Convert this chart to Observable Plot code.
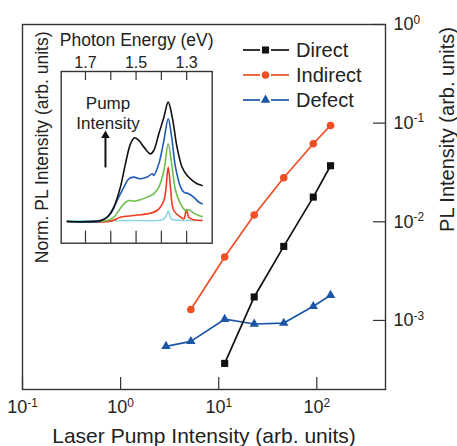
<!DOCTYPE html>
<html><head><meta charset="utf-8">
<script src="https://cdn.jsdelivr.net/npm/d3@7"></script>
<script src="https://cdn.jsdelivr.net/npm/@observablehq/plot@0.6"></script>
<style>
body{margin:0;background:#fff;font-family:"Liberation Sans",Arial,sans-serif}
#wrap{position:relative;width:457px;height:446px;background:#fff}
#wrap svg{position:absolute;left:0;top:0}
</style></head><body><div id="wrap"></div>
<script>
// ---- main chart data ----
const directX = [11.5, 23, 46, 92, 138];
const directY = [3.67e-4, 1.73e-3, 5.63e-3, 1.78e-2, 3.70e-2];
const indirectX = [5.2, 11.5, 23, 46, 92, 138];
const indirectY = [1.29e-3, 4.39e-3, 1.17e-2, 2.80e-2, 6.18e-2, 9.48e-2];
const defectX = [2.9, 5.2, 11.5, 23, 46, 92, 138];
const defectY = [5.47e-4, 6.14e-4, 1.03e-3, 9.2e-4, 9.4e-4, 1.39e-3, 1.80e-3];
const xTicks = [0.1, 1, 10, 100];
const xTickLabels = ["10^-1", "10^0", "10^1", "10^2"];
const yTicks = [1e-3, 1e-2, 1e-1, 1];
const yTickLabels = ["10^-3", "10^-2", "10^-1", "10^0"];
const seriesNames = ["Direct", "Indirect", "Defect"];

// ---- inset spectra data ----
const blackE = [1.772, 1.641, 1.614, 1.588, 1.562, 1.542, 1.522, 1.506, 1.489, 1.469, 1.443, 1.430, 1.410, 1.390, 1.373, 1.357, 1.338, 1.318, 1.298, 1.278, 1.259, 1.239];
const blackI = [0, 0.008, 0.036, 0.12, 0.288, 0.483, 0.651, 0.701, 0.679, 0.623, 0.567, 0.595, 0.735, 0.874, 1.0, 0.874, 0.623, 0.455, 0.385, 0.344, 0.316, 0.302];
const blueE = [1.772, 1.641, 1.601, 1.575, 1.548, 1.529, 1.509, 1.483, 1.456, 1.436, 1.430, 1.410, 1.390, 1.373, 1.361, 1.344, 1.324, 1.311, 1.292, 1.272, 1.252, 1.239];
const blueI = [0, 0.005, 0.064, 0.176, 0.288, 0.358, 0.372, 0.358, 0.372, 0.40, 0.385, 0.483, 0.679, 0.860, 0.735, 0.455, 0.288, 0.246, 0.232, 0.204, 0.162, 0.148];
const greenE = [1.772, 1.614, 1.588, 1.568, 1.548, 1.529, 1.509, 1.483, 1.456, 1.430, 1.410, 1.390, 1.373, 1.361, 1.344, 1.324, 1.305, 1.292, 1.272, 1.252, 1.239];
const greenI = [0, 0.008, 0.036, 0.092, 0.148, 0.176, 0.170, 0.182, 0.204, 0.232, 0.288, 0.427, 0.651, 0.511, 0.260, 0.148, 0.092, 0.098, 0.070, 0.050, 0.042];
const redE = [1.772, 1.601, 1.562, 1.509, 1.456, 1.417, 1.390, 1.373, 1.364, 1.351, 1.324, 1.311, 1.301, 1.292, 1.272, 1.239];
const redI = [0, 0.003, 0.036, 0.050, 0.064, 0.092, 0.176, 0.455, 0.288, 0.092, 0.036, 0.022, 0.10, 0.036, 0.014, 0.008];
const cyanE = [1.772, 1.50, 1.40, 1.383, 1.373, 1.361, 1.33, 1.239];
const cyanI = [0.005, 0.008, 0.012, 0.036, 0.087, 0.022, 0.01, 0.01];
const insetTicks = [1.7, 1.6, 1.5, 1.4, 1.3];
const insetLabeledTicks = [1.7, 1.5, 1.3];
const insetTickLabels = ["1.7", "1.5", "1.3"];

const FONT = "Liberation Sans, Arial, Helvetica, sans-serif";
const C_DIRECT = "#111111", C_INDIRECT = "#f04e24", C_DEFECT = "#1b55a6";

const pts = (xs, ys) => xs.map((x, i) => ({x, y: ys[i]}));
const direct = pts(directX, directY);
const indirect = pts(indirectX, indirectY);
const defect = pts(defectX, defectY);

const W = 457, H = 446, ML = 22, MR = 72, MT = 24, MB = 57;
const FW = W - ML - MR, FH = H - MT - MB;

const main = Plot.plot({
  width: W, height: H, marginLeft: ML, marginRight: MR, marginTop: MT, marginBottom: MB,
  style: {fontFamily: FONT, background: "transparent", color: "#222"},
  x: {type: "log", domain: [0.1, 10 ** 2.7]},
  y: {type: "log", domain: [10 ** -3.7, 1]},
  marks: [
    Plot.frame({stroke: "#333", strokeWidth: 1.4}),
    Plot.tickX(xTicks, {x: d => d, insetTop: FH - 12, stroke: "#333", strokeWidth: 1.2}),
    Plot.tickY(yTicks, {y: d => d, insetLeft: FW - 12, stroke: "#333", strokeWidth: 1.2}),
    Plot.axisX(xTicks, {tickSize: 0, tickPadding: 11, fontSize: 18, label: null,
      tickFormat: d => xTickLabels[xTicks.indexOf(d)]}),
    Plot.axisY(yTicks, {anchor: "right", tickSize: 0, tickPadding: 8, fontSize: 18, label: null,
      tickFormat: d => yTickLabels[yTicks.indexOf(d)]}),
    Plot.text(["Laser Pump Intensity (arb. units)"], {frameAnchor: "bottom", dy: 47, lineAnchor: "middle", textAnchor: "middle", fontSize: 21, fill: "#222"}),
    Plot.text(["PL Intensity (arb. units)"], {frameAnchor: "top-right", dx: 62, dy: 105, rotate: -90, textAnchor: "middle", lineAnchor: "middle", fontSize: 20, fill: "#222"}),
    Plot.line(defect, {x: "x", y: "y", stroke: C_DEFECT, strokeWidth: 1.7}),
    Plot.dot(defect, {x: "x", y: "y", symbol: "triangle", r: 3.5, fill: C_DEFECT}),
    Plot.line(indirect, {x: "x", y: "y", stroke: C_INDIRECT, strokeWidth: 1.7}),
    Plot.dot(indirect, {x: "x", y: "y", symbol: "circle", r: 3.8, fill: C_INDIRECT}),
    Plot.line(direct, {x: "x", y: "y", stroke: C_DIRECT, strokeWidth: 1.7}),
    Plot.dot(direct, {x: "x", y: "y", symbol: "square", r: 4, fill: C_DIRECT})
  ]
});

// ---- inset ----
const IW = 230, IH = 285, IML = 60.7, IMR = IW - 211.7, IMT = 71, IMB = IH - 242.7;
const IFH = IH - IMT - IMB;
const spectra = [
  {E: cyanE, I: cyanI, c: "#8fd6e3"},
  {E: redE, I: redI, c: "#f03c1e"},
  {E: greenE, I: greenI, c: "#6cbf4a"},
  {E: blueE, I: blueI, c: "#1f5cb8"},
  {E: blackE, I: blackI, c: "#111111"}
];
const annot = [{x: 1.611, y: 0.989, t: "Pump"}, {x: 1.611, y: 0.821, t: "Intensity"}];
const arrowData = [{x1: 1.621, y1: 0.453, x2: 1.621, y2: 0.72}];
const inset = Plot.plot({
  width: IW, height: IH, marginLeft: IML, marginRight: IMR, marginTop: IMT, marginBottom: IMB,
  style: {fontFamily: FONT, background: "transparent", color: "#222"},
  x: {domain: [1.796, 1.199]},
  y: {domain: [-0.182, 1.257], axis: null},
  marks: [
    Plot.frame({fill: "white", stroke: "#333", strokeWidth: 1.4}),
    ...spectra.map(s => Plot.line(pts(s.E, s.I), {x: "x", y: "y", stroke: s.c, strokeWidth: 1.6, curve: "catmull-rom"})),
    Plot.tickX(insetTicks, {x: d => d, insetBottom: IFH - 9, stroke: "#333", strokeWidth: 1.2}),
    Plot.tickX(insetTicks, {x: d => d, insetTop: IFH - 12, stroke: "#333", strokeWidth: 1.2}),
    Plot.axisX(insetLabeledTicks, {anchor: "top", tickSize: 0, tickPadding: 4, fontSize: 16, label: null,
      tickFormat: d => insetTickLabels[insetLabeledTicks.indexOf(d)]}),
    Plot.text(["Photon Energy (eV)"], {frameAnchor: "top", dy: -31, lineAnchor: "middle", textAnchor: "middle", fontSize: 17.5, fill: "#222"}),
    Plot.text(["Norm. PL Intensity (arb. units)"], {frameAnchor: "left", dx: -19, dy: -10, rotate: -90, textAnchor: "middle", lineAnchor: "middle", fontSize: 17.5, fill: "#222"}),
    Plot.text(annot, {x: "x", y: "y", text: "t", fontSize: 17, fill: "#222"}),
    Plot.link(arrowData, {x1: "x1", y1: "y1", x2: "x2", y2: "y2", stroke: "#111", strokeWidth: 2}),
    Plot.dot(arrowData, {x: "x2", y: "y2", symbol: "triangle", r: 3.2, fill: "#111"})
  ]
});

const wrap = document.getElementById("wrap");
wrap.appendChild(main);
wrap.appendChild(inset);

// superscript exponents in tick labels
d3.select(main).selectAll("text").each(function() {
  const t = this.textContent;
  const m = t.match(/^(\d+)\^(.+)$/);
  if (!m) return;
  const s = d3.select(this);
  s.text(m[1]);
  s.append("tspan").attr("dy", "-0.55em").attr("font-size", "0.66em").text(m[2]);
});

// legend
const lg = d3.select(main).append("g").attr("font-family", FONT).attr("font-size", 20).attr("fill", "#222").attr("text-anchor", "start");
const legendColors = [C_DIRECT, C_INDIRECT, C_DEFECT];
const legendSymbols = [d3.symbolSquare, d3.symbolCircle, d3.symbolTriangle];
const legendSizes = [50, 45, 38];
seriesNames.forEach((name, i) => {
  const y = 50 + i * 25;
  const g = lg.append("g");
  g.append("line").attr("x1", 243).attr("x2", 260).attr("y1", y).attr("y2", y).attr("stroke", legendColors[i]).attr("stroke-width", 1.7);
  g.append("line").attr("x1", 271).attr("x2", 289).attr("y1", y).attr("y2", y).attr("stroke", legendColors[i]).attr("stroke-width", 1.7);
  g.append("path").attr("d", d3.symbol(legendSymbols[i], legendSizes[i])()).attr("transform", `translate(265.5,${y})`).attr("fill", legendColors[i]);
  g.append("text").attr("x", 296).attr("y", y).attr("dy", "0.35em").attr("text-anchor", "start").text(name);
});
</script></body></html>
